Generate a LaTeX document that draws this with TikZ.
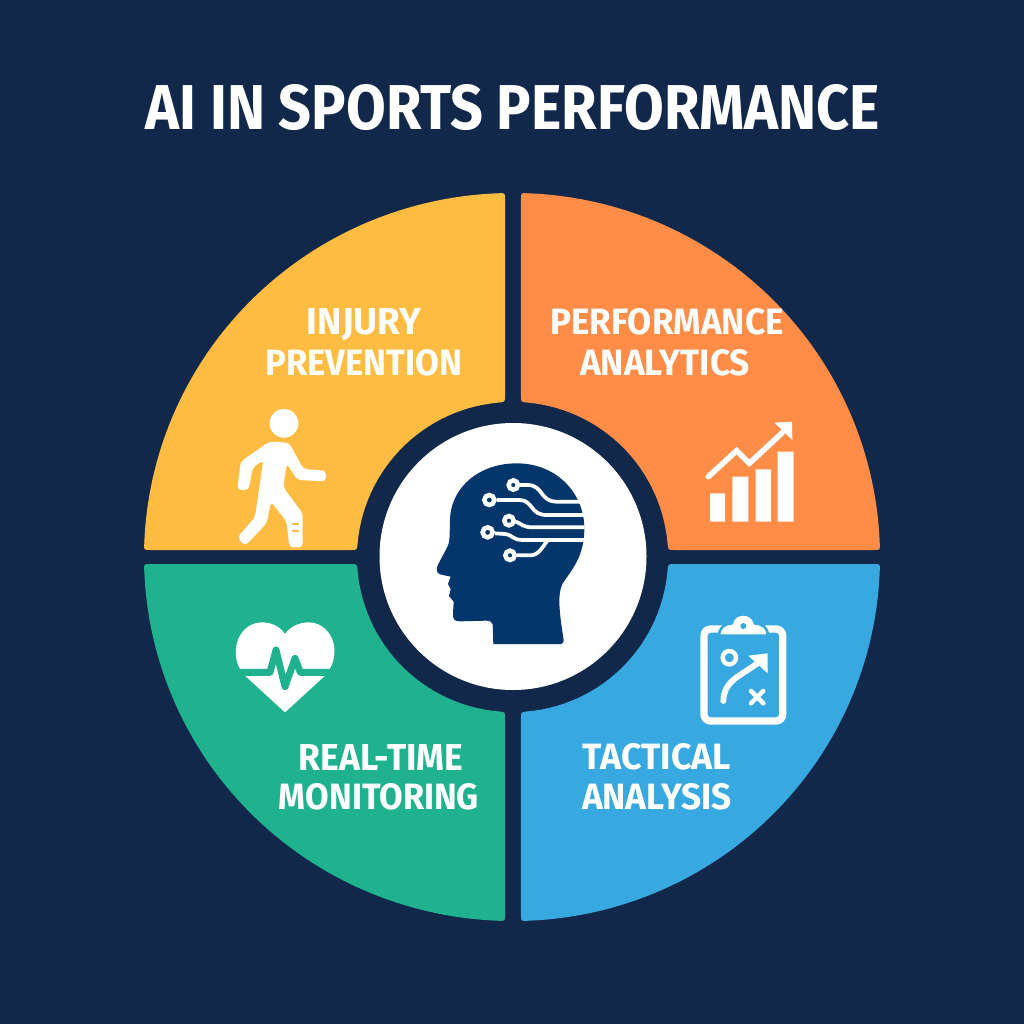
\documentclass[tikz,border=0pt]{standalone}
\usepackage{graphicx}
\usepackage{fontspec}
\setmainfont{Fira Sans}
\newlength\pxu \pxu=.75pt
\newcommand\fitw[3]{\resizebox{#1\pxu}{#2\pxu}{\bfseries #3}}
\definecolor{bgnavy}{HTML}{11284A}
\definecolor{wyellow}{HTML}{FFBC42}
\definecolor{worange}{HTML}{FF8C47}
\definecolor{wgreen}{HTML}{20B28F}
\definecolor{wblue}{HTML}{38A9E0}
\definecolor{headblue}{HTML}{04356B}
\tikzset{
  lbl/.style={inner sep=0pt,outer sep=0pt,text=white,anchor=center},
  wire/.style={draw=white,line width=2.8pt,line cap=butt},
  pad/.style={draw=white,fill=headblue,line width=3.4pt},
}
\newcommand\quadrant[4]{%
  \fill[#3,shift={(#4,557)},xscale=#1,yscale=#2]
   (-7,-358) -- (-7,-161) .. controls (-7,-155) .. (-13.5,-154.4)
   -- plot[domain=95:175,samples=30] ({155*cos(\x)},{-155*sin(\x)})
   .. controls (-155,-7) .. (-161,-7) -- (-362,-7) .. controls (-368,-7) .. (-367.8,-13)
   -- plot[domain=178:92,samples=60] ({368*cos(\x)},{-364*sin(\x)})
   .. controls (-7,-364) .. cycle;}
\begin{document}
\begin{tikzpicture}[x=.75pt,y=-.75pt]
\fill[bgnavy] (0,0) rectangle (1024,1024);
\useasboundingbox (0,0) rectangle (1024,1024);
\quadrant{1}{1}{wyellow}{512}
\quadrant{-.9946}{1}{worange}{514}
\quadrant{1}{-1}{wgreen}{512}
\quadrant{-.9946}{-1}{wblue}{514}
\fill[white] (513,556.5) circle[radius=133.5];

\node[lbl] (title) at (513,108) {\fitw{734}{45}{AI IN SPORTS PERFORMANCE}};
\node[lbl] (inj1) at (364,325) {\fitw{114}{26}{INJURY}};
\node[lbl] (inj2) at (364,363) {\fitw{197}{26}{PREVENTION}};
\node[lbl] (perf1) at (667,322) {\fitw{233}{26}{PERFORMANCE}};
\node[lbl] (perf2) at (665,363) {\fitw{170}{26}{ANALYTICS}};
\node[lbl] (real1) at (381,757) {\fitw{165}{26}{REAL-TIME}};
\node[lbl] (real2) at (379,797) {\fitw{200}{26}{MONITORING}};
\node[lbl] (tac1) at (657,757) {\fitw{148}{26}{TACTICAL}};
\node[lbl] (tac2) at (657,797) {\fitw{150}{26}{ANALYSIS}};

% head
\begin{scope}[shift={(380,420)},x=.25pt,y=-.25pt]
\fill[headblue] (340,672) -- (338,612) .. controls (336,604) and (328,602) .. (318,602)
 -- (240,604) .. controls (222,604) and (218,596) .. (219,580)
 -- (221,545) -- (207,528) -- (212,508) -- (204,492) -- (212,470)
 -- (180,463) .. controls (168,458) and (168,445) .. (175,432)
 -- (200,385) .. controls (212,365) and (208,340) .. (210,300)
 .. controls (212,200) and (300,130) .. (410,130)
 .. controls (530,130) and (615,220) .. (613,330)
 .. controls (612,410) and (575,450) .. (548,490)
 .. controls (530,525) and (540,590) .. (551,660)
 .. controls (552,668) and (548,672) .. (542,672) -- cycle;
\draw[wire] (420,195) -- (445,195) .. controls (490,197) and (480,245) .. (530,245) -- (600,245);
\draw[wire] (350,240) -- (420,240) .. controls (460,242) and (450,285) .. (500,285) -- (612,285);
\draw[wire] (407,305) .. controls (425,310) and (425,322) .. (460,322) -- (614,322);
\draw[wire] (345,340) -- (375,342) .. controls (400,345) and (395,360) .. (430,360) -- (612,360);
\draw[wire] (410,406) -- (450,406) .. controls (475,406) and (485,385) .. (502,362);
\draw[pad] (400,195) circle[radius=14];
\draw[pad] (328,240) circle[radius=15];
\draw[pad] (387,302) circle[radius=14];
\draw[pad] (323,337) circle[radius=15];
\draw[pad] (390,406) circle[radius=14];
\end{scope}

% walker
\begin{scope}[shift={(220,400)},x=.25pt,y=-.25pt]
\fill[white] (192,70) circle[radius=43];
\fill[white,rounded corners=3pt] (148,125) -- (207,128) -- (250,207) -- (318,212) -- (318,244)
 -- (232,240) -- (200,190) -- (190,262) -- (248,340) -- (248,442) -- (208,442) -- (200,365)
 -- (153,305) -- (140,370) -- (75,438) -- (52,412) -- (105,352) -- (130,180) -- (98,203)
 -- (86,270) -- (52,270) -- (62,185) -- cycle;
\draw[wyellow,line width=1.6pt] (216,373) -- (236,373) (216,392) -- (236,392);
\end{scope}

% chart
\begin{scope}[shift={(695,410)},x=.25pt,y=-.25pt]
\fill[white] (45,250) rectangle (90,335) (112,200) rectangle (160,335)
 (182,178) rectangle (228,335) (248,125) rectangle (296,335);
\draw[white,line width=4.2pt,line cap=round,line join=miter] (40,200) -- (125,122) -- (163,160) -- (262,68);
\fill[white] (238,38) -- (291,35) -- (292,90) -- cycle;
\end{scope}

% heart
\begin{scope}[shift={(225,615)},x=.25pt,y=-.25pt]
\fill[white] (180,292) -- (60,182) .. controls (35,155) and (30,125) .. (33,100)
 .. controls (38,50) and (75,22) .. (110,22) .. controls (140,22) and (165,35) .. (180,57)
 .. controls (195,35) and (222,22) .. (252,22) .. controls (290,22) and (325,55) .. (328,100)
 .. controls (330,130) and (322,155) .. (300,182) -- cycle;
\draw[wgreen,line width=5.2pt,line join=round] (20,172) -- (135,172) -- (153,105) -- (180,215) -- (210,130) -- (226,172) -- (340,172);
\end{scope}

% clipboard
\begin{scope}[shift={(690,605)},x=.25pt,y=-.25pt]
\draw[white,line width=5.5pt,rounded corners=5pt] (42,72) rectangle (278,348);
\fill[white,draw=wblue,line width=2pt] (88,92) .. controls (85,70) and (105,55) .. (125,55)
 .. controls (130,35) and (145,28) .. (160,28) .. controls (175,28) and (190,35) .. (195,55)
 .. controls (215,55) and (237,70) .. (232,92) -- cycle;
\fill[wblue] (160,63) circle[radius=9];
\draw[white,line width=3.3pt] (118,158) circle[radius=20];
\draw[white,line width=4.4pt,line cap=round] (100,288) .. controls (102,225) and (150,215) .. (212,168);
\fill[white] (175,152) -- (233,145) -- (233,205) -- cycle;
\draw[white,line width=3.3pt,line cap=round] (183,258) -- (220,295) (220,258) -- (183,295);
\end{scope}
\end{tikzpicture}
\end{document}
